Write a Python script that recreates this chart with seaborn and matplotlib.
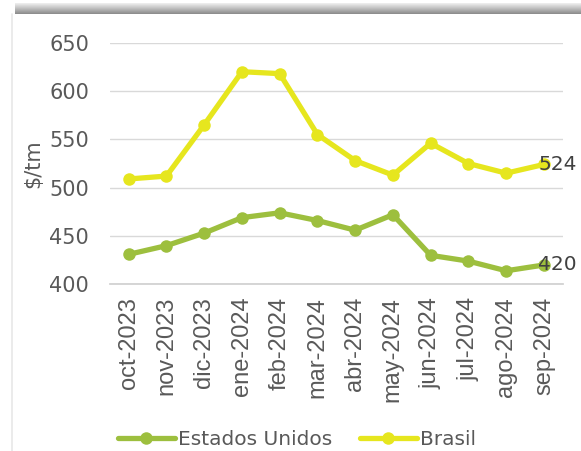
import numpy as np
import pandas as pd
import matplotlib
matplotlib.use("Agg")
import matplotlib.pyplot as plt
import seaborn as sns

meses = ["oct-2023", "nov-2023", "dic-2023", "ene-2024", "feb-2024", "mar-2024",
         "abr-2024", "may-2024", "jun-2024", "jul-2024", "ago-2024", "sep-2024"]
estados_unidos = [431, 440, 453, 469, 474, 466, 456, 472, 430, 424, 414, 420]
brasil = [509, 512, 565, 620, 618, 555, 528, 513, 546, 525, 515, 524]
series = ["Estados Unidos", "Brasil"]
colores = {"Estados Unidos": "#9DBF3E", "Brasil": "#E6E61E"}
yticks = [400, 450, 500, 550, 600, 650]

df = pd.concat([
    pd.DataFrame({"mes": meses, "valor": estados_unidos, "serie": series[0]}),
    pd.DataFrame({"mes": meses, "valor": brasil, "serie": series[1]}),
])

sns.set_theme(style="white")
plt.rcParams["font.family"] = ["DejaVu Sans"]
txt = "#595959"

fig = plt.figure(figsize=(5.81, 4.51), dpi=100)

# shadow frame (top band and left edge)
shadow = fig.add_axes([0.025, 0.968, 0.975, 0.025])
grad = np.linspace(0.55, 0.97, 20).reshape(-1, 1)
shadow.imshow(grad[::-1], cmap="gray", vmin=0, vmax=1, aspect="auto",
              extent=[0, 1, 0, 1])
shadow.axis("off")
fig.add_artist(plt.Line2D([0.02, 0.02], [0.0, 0.968], color="#e8e8e8", lw=1.2,
                          transform=fig.transFigure))

ax = fig.add_axes([0.189, 0.3696, 0.7796, 0.5357])
sns.lineplot(data=df, x="mes", y="valor", hue="serie", hue_order=series,
             palette=colores, marker="o", markersize=9, markeredgewidth=0,
             linewidth=3.8, sort=False, ax=ax, legend=True)

ax.set_ylim(400, 650)
ax.set_yticks(yticks)
ax.set_xlim(-0.5, len(meses) - 0.5)
ax.set_xticks(range(len(meses)))
ax.set_xticklabels(meses, rotation=90, color=txt, fontsize=17,
                   family="Liberation Sans")
ax.set_xticks(np.arange(-0.5, len(meses), 1), minor=True)
ax.tick_params(axis="x", which="major", length=0, pad=9)
ax.tick_params(axis="x", which="minor", length=6, color="#d0d0d0", width=1)
ax.tick_params(axis="y", length=0, labelsize=15, labelcolor=txt, pad=15)
ax.grid(axis="y", color="#d9d9d9", lw=1)
ax.set_axisbelow(True)
for s in ["top", "right", "left"]:
    ax.spines[s].set_visible(False)
ax.spines["bottom"].set_color("#d0d0d0")
ax.set_xlabel("")
ax.set_ylabel("$/tm", fontsize=15, color=txt, labelpad=4)

for vals in (brasil, estados_unidos):
    ax.annotate(str(vals[-1]), (len(meses) - 1, vals[-1]), xytext=(-4, 0),
                textcoords="offset points", va="center", ha="left",
                fontsize=14.5, color="#404040")

handles, labels = ax.get_legend_handles_labels()
ax.legend_.remove()
fig.legend(handles, labels, loc="center", bbox_to_anchor=(0.511, 0.026),
           ncol=2, frameon=False, fontsize=14.5, labelcolor=txt,
           handlelength=2.8, handletextpad=0.15, columnspacing=1.4)

fig.savefig("out.png", dpi=100, facecolor="white")
